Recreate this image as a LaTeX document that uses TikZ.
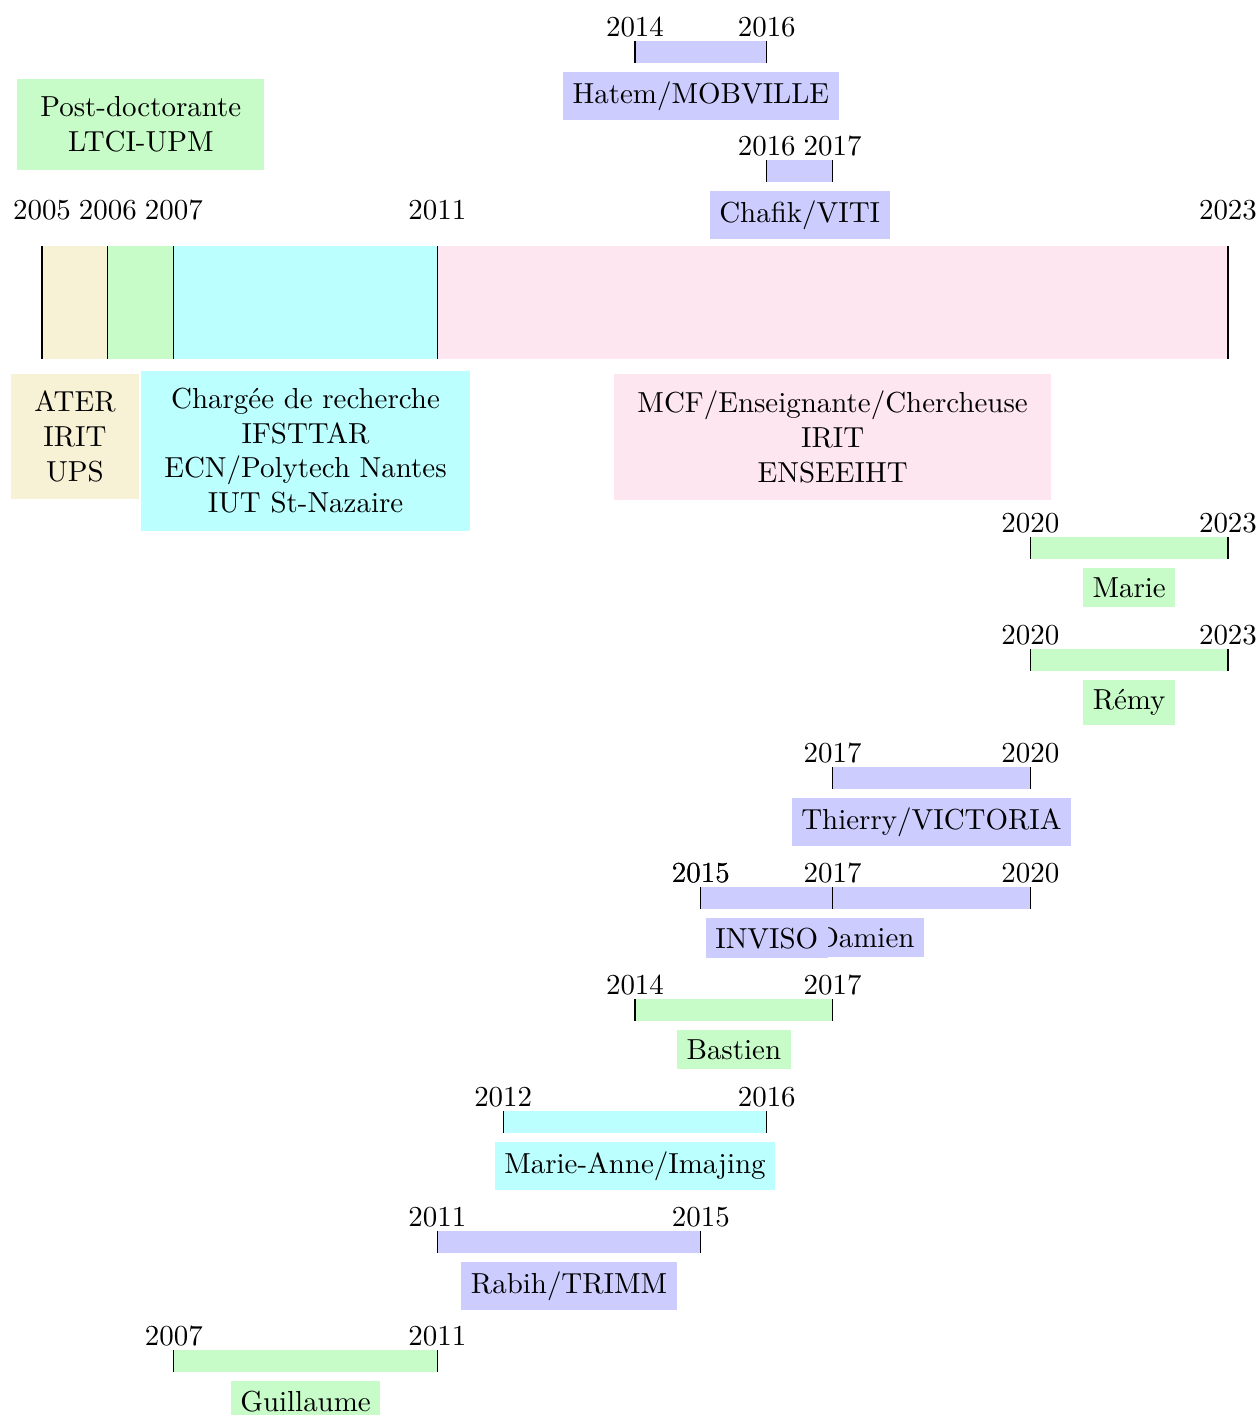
\documentclass[tikz,border=0pt]{standalone}
\usetikzlibrary{positioning}
\definecolor{aterbeige}{RGB}{247,242,214}
\definecolor{mcfpink}{RGB}{253,230,240}
\definecolor{crcyan}{RGB}{188,255,255}
\definecolor{docgreen}{RGB}{199,252,200}
\colorlet{projblue}{blue!20}

\begin{document}
\begin{tikzpicture}[
  x=0.8cm, y=1cm,
  node distance=0cm, % segments of the career bar snap together
  seg/.style={rectangle, anchor=north west, minimum height=1.372cm, inner sep=0pt, outer sep=0pt},
  poste/.style={rectangle, align=center, inner xsep=8pt, inner ysep=6pt},
  strip/.style={rectangle, anchor=north west, minimum height=0.27cm, inner sep=0pt, outer sep=0pt},
  yr/.style={anchor=base, inner sep=0pt},
  who/.style={rectangle, align=center}
]
\useasboundingbox (-0.51cm,0cm) rectangle (14.777cm,-17.181cm);

% Career bar
\node[seg, fill=aterbeige, minimum width=0.8cm] (ater) at (0,-2.987) {};
\node[seg, fill=docgreen, minimum width=0.8cm, right=0cm of ater] (postdoc) {};
\node[seg, fill=crcyan, minimum width=3.2cm, right=0cm of postdoc] (cr) {};
\node[seg, fill=mcfpink, minimum width=9.6cm, right=0cm of cr] (mcf) {};
\draw (ater.north west) -- (ater.south west) (postdoc.north west) -- (postdoc.south west);
\draw (cr.north west) -- (cr.south west) (mcf.north west) -- (mcf.south west);
\draw (mcf.north east) -- (mcf.south east);
\node[yr] at ([yshift=0.32cm]ater.north west) {2005};
\node[yr] at ([yshift=0.32cm]postdoc.north west) {2006};
\node[yr] at ([yshift=0.32cm]cr.north west) {2007};
\node[yr] at ([yshift=0.32cm]mcf.north west) {2011};
\node[yr] at ([yshift=0.32cm]mcf.north east) {2023};

% Positions held
\node[poste, fill=docgreen, above=0.92cm of postdoc] (postdoclbl) {Post-doctorante\\LTCI-UPM};
\node[poste, fill=aterbeige, below=0.17cm of ater] (aterlbl) {ATER\\IRIT\\UPS};
\node[poste, fill=crcyan, below=0.134cm of cr] (crlbl) {Chargée de recherche\\IFSTTAR\\ECN/Polytech Nantes\\IUT St-Nazaire};
\node[poste, fill=mcfpink, below=0.17cm of mcf] (mcflbl) {MCF/Enseignante/Chercheuse\\IRIT\\ENSEEIHT};

% Hatem/MOBVILLE
\node[strip, fill=projblue, minimum width=1.6cm] (hatem) at (9,-0.498) {};
\draw (hatem.north west) -- (hatem.south west) (hatem.north east) -- (hatem.south east);
\node[yr] at ([yshift=0.06cm]hatem.north west) {2014};
\node[yr] at ([yshift=0.06cm]hatem.north east) {2016};
\node[who, fill=projblue, below=0.1cm of hatem] (hatemlbl) {Hatem/MOBVILLE};

% Chafik/VITI
\node[strip, fill=projblue, minimum width=0.8cm] (chafik) at (11,-1.943) {};
\draw (chafik.north west) -- (chafik.south west) (chafik.north east) -- (chafik.south east);
\node[yr] at ([yshift=0.06cm]chafik.north west) {2016};
\node[yr] at ([yshift=0.06cm]chafik.north east) {2017};
\node[who, fill=projblue, below=0.1cm of chafik] (chafiklbl) {Chafik/VITI};

% Marie
\node[strip, fill=docgreen, minimum width=2.4cm] (marie) at (15,-6.520) {};
\draw (marie.north west) -- (marie.south west) (marie.north east) -- (marie.south east);
\node[yr] at ([yshift=0.06cm]marie.north west) {2020};
\node[yr] at ([yshift=0.06cm]marie.north east) {2023};
\node[who, fill=docgreen, below=0.1cm of marie] (marielbl) {Marie};

% Remy
\node[strip, fill=docgreen, minimum width=2.4cm] (remy) at (15,-7.880) {};
\draw (remy.north west) -- (remy.south west) (remy.north east) -- (remy.south east);
\node[yr] at ([yshift=0.06cm]remy.north west) {2020};
\node[yr] at ([yshift=0.06cm]remy.north east) {2023};
\node[who, fill=docgreen, below=0.1cm of remy] (remylbl) {Rémy};

% Thierry/VICTORIA
\node[strip, fill=projblue, minimum width=2.4cm] (thierry) at (12,-9.313) {};
\draw (thierry.north west) -- (thierry.south west) (thierry.north east) -- (thierry.south east);
\node[yr] at ([yshift=0.06cm]thierry.north west) {2017};
\node[yr] at ([yshift=0.06cm]thierry.north east) {2020};
\node[who, fill=projblue, below=0.1cm of thierry] (thierrylbl) {Thierry/VICTORIA};

% Damien, then INVISO on top of it
\node[strip, fill=projblue, minimum width=4cm] (damien) at (10,-10.770) {};
\draw (damien.north west) -- (damien.south west) (damien.north east) -- (damien.south east);
\node[yr] at ([yshift=0.06cm]damien.north west) {2015};
\node[yr] at ([yshift=0.06cm]damien.north east) {2020};
\node[who, fill=projblue, below=0.1cm of damien] (damienlbl) {Damien};
\node[strip, fill=projblue, minimum width=1.6cm] (inviso) at (10,-10.770) {};
\draw (inviso.north west) -- (inviso.south west) (inviso.north east) -- (inviso.south east);
\node[yr] at ([yshift=0.06cm]inviso.north west) {2015};
\node[yr] at ([yshift=0.06cm]inviso.north east) {2017};
\node[who, fill=projblue, below=0.1cm of inviso] (invisolbl) {INVISO};

% Bastien
\node[strip, fill=docgreen, minimum width=2.4cm] (bastien) at (9,-12.130) {};
\draw (bastien.north west) -- (bastien.south west) (bastien.north east) -- (bastien.south east);
\node[yr] at ([yshift=0.06cm]bastien.north west) {2014};
\node[yr] at ([yshift=0.06cm]bastien.north east) {2017};
\node[who, fill=docgreen, below=0.1cm of bastien] (bastienlbl) {Bastien};

% Marie-Anne/Imajing
\node[strip, fill=crcyan, minimum width=3.2cm] (mariea) at (7,-13.490) {};
\draw (mariea.north west) -- (mariea.south west) (mariea.north east) -- (mariea.south east);
\node[yr] at ([yshift=0.06cm]mariea.north west) {2012};
\node[yr] at ([yshift=0.06cm]mariea.north east) {2016};
\node[who, fill=crcyan, below=0.1cm of mariea] (mariealbl) {Marie-Anne/Imajing};

% Rabih/TRIMM
\node[strip, fill=projblue, minimum width=3.2cm] (rabih) at (6,-14.947) {};
\draw (rabih.north west) -- (rabih.south west) (rabih.north east) -- (rabih.south east);
\node[yr] at ([yshift=0.06cm]rabih.north west) {2011};
\node[yr] at ([yshift=0.06cm]rabih.north east) {2015};
\node[who, fill=projblue, below=0.1cm of rabih] (rabihlbl) {Rabih/TRIMM};

% Guillaume
\node[strip, fill=docgreen, minimum width=3.2cm] (guillaume) at (2,-16.391) {};
\draw (guillaume.north west) -- (guillaume.south west) (guillaume.north east) -- (guillaume.south east);
\node[yr] at ([yshift=0.06cm]guillaume.north west) {2007};
\node[yr] at ([yshift=0.06cm]guillaume.north east) {2011};
\node[who, fill=docgreen, below=0.1cm of guillaume] (guillaumelbl) {Guillaume};

\end{tikzpicture}
\end{document}
